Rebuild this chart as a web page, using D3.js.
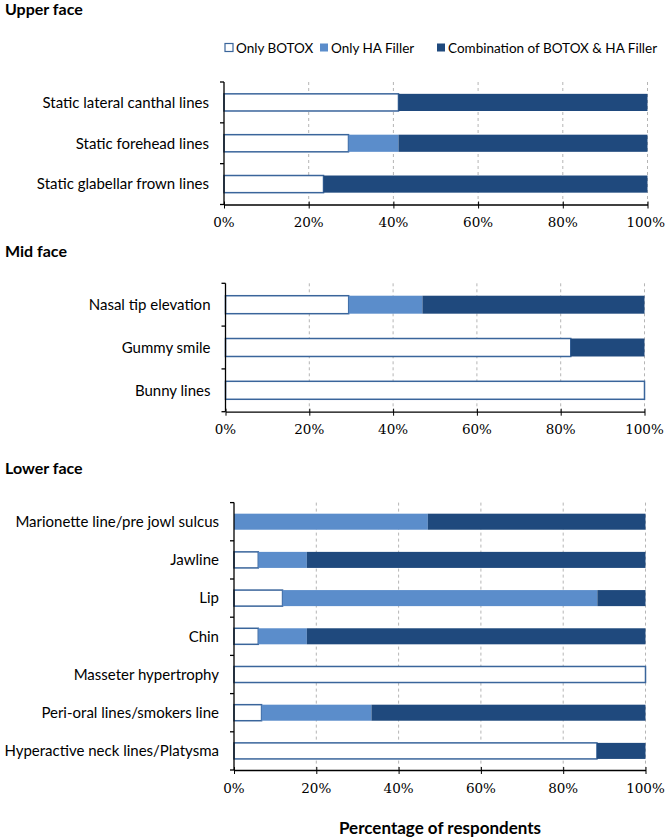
<!DOCTYPE html>
<html>
<head>
<meta charset="utf-8">
<script src="https://cdn.jsdelivr.net/npm/d3@7"></script>
<style>
  html, body { margin: 0; padding: 0; background: #fff; }
  svg { display: block; }
</style>
</head>
<body>
<svg id="chart" width="666" height="837"></svg>
<script>
// ---------------- DATA ----------------
const seriesNames = ["Only BOTOX", "Only HA Filler", "Combination of BOTOX & HA Filler"];
const tickValues = [0, 20, 40, 60, 80, 100];
const tickLabels = ["0%", "20%", "40%", "60%", "80%", "100%"];
const xAxisTitle = "Percentage of respondents";

const upperTitle = "Upper face";
const upperCategories = ["Static lateral canthal lines", "Static forehead lines", "Static glabellar frown lines"];
const upperBotox = [41.2, 29.4, 23.5];
const upperHA    = [0, 11.8, 0];
const upperCombo = [58.8, 58.8, 76.5];

const midTitle = "Mid face";
const midCategories = ["Nasal tip elevation", "Gummy smile", "Bunny lines"];
const midBotox = [29.4, 82.4, 100];
const midHA    = [17.6, 0, 0];
const midCombo = [53.0, 17.6, 0];

const lowerTitle = "Lower face";
const lowerCategories = ["Marionette line/pre jowl sulcus", "Jawline", "Lip", "Chin",
  "Masseter hypertrophy", "Peri-oral lines/smokers line", "Hyperactive neck lines/Platysma"];
const lowerBotox = [0, 5.9, 11.8, 5.9, 100, 6.7, 88.2];
const lowerHA    = [47.1, 11.8, 76.5, 11.8, 0, 26.7, 0];
const lowerCombo = [52.9, 82.3, 11.7, 82.3, 0, 66.6, 11.8];

// ---------------- STYLE ----------------
const colors = ["#ffffff", "#5b8dcb", "#1f497d"];
const botoxStroke = "#3a659b";
const sansFont = "Lato, 'Open Sans', sans-serif";
const serifFont = "DejaVu Serif";
const W = 666;

const svg = d3.select("#chart");

function drawPanel(cfg) {
  const keys = ["botox", "ha", "combo"];
  const table = cfg.categories.map((c, i) => ({
    cat: c, botox: cfg.botox[i], ha: cfg.ha[i], combo: cfg.combo[i]
  }));
  const stacked = d3.stack().keys(keys)(table);

  const x = d3.scaleLinear().domain([0, 100]).range([cfg.left, cfg.right]);
  const y = d3.scaleBand().domain(cfg.categories).range([cfg.top, cfg.bottom])
    .paddingInner(0.58).paddingOuter(0.29);

  const g = svg.append("g");

  // panel title
  g.append("text").attr("x", 5).attr("y", cfg.titleY)
    .style("font-family", sansFont).attr("font-weight", "bold").attr("font-size", 16)
    .attr("fill", "#000").text(cfg.title);

  // dashed vertical gridlines
  g.append("g").selectAll("line").data(tickValues.filter(v => v > 0)).join("line")
    .attr("x1", d => x(d)).attr("x2", d => x(d))
    .attr("y1", cfg.top).attr("y2", cfg.bottom)
    .attr("stroke", "#b5b5b5").attr("stroke-width", 1).attr("stroke-dasharray", "3,3");

  // stacked bars
  stacked.forEach((layer, li) => {
    g.append("g").selectAll("rect").data(layer.filter(d => d[1] - d[0] > 0)).join("rect")
      .attr("x", d => x(d[0]))
      .attr("y", d => y(d.data.cat))
      .attr("width", d => x(d[1]) - x(d[0]))
      .attr("height", y.bandwidth())
      .attr("fill", colors[li])
      .attr("stroke", li === 0 ? botoxStroke : "none")
      .attr("stroke-width", li === 0 ? 1.5 : 0);
  });

  // x axis
  const xAxis = d3.axisBottom(x).tickValues(tickValues)
    .tickFormat("").tickSize(4).tickSizeOuter(0);
  const xa = g.append("g").attr("transform", `translate(0,${cfg.bottom})`).call(xAxis);
  xa.select(".domain").attr("stroke", "#000").attr("stroke-width", 1.3);
  xa.selectAll(".tick line").attr("stroke", "#000").attr("y1", -3).attr("y2", 4);
  const tl = g.append("g").selectAll("text").data(tickValues).join("text")
    .attr("x", d => x(d))
    .attr("y", cfg.bottom + 22.5)
    .attr("text-anchor", "middle")
    .attr("font-family", serifFont)
    .attr("font-size", 13.5)
    .attr("fill", "#000")
    .text((d, i) => tickLabels[i]);
  // keep labels inside the page
  tl.each(function(d) {
    const w = this.getComputedTextLength();
    const cx = Math.min(x(d), W - 1 - w / 2);
    d3.select(this).attr("x", cx);
  });

  // y axis with ticks at band boundaries
  const yAxisLine = g.append("g");
  yAxisLine.append("line").attr("x1", cfg.left).attr("x2", cfg.left)
    .attr("y1", cfg.top).attr("y2", cfg.bottom).attr("stroke", "#000").attr("stroke-width", 1.3);
  const step = y.step();
  const boundaries = d3.range(cfg.categories.length + 1).map(i => cfg.top + i * step);
  yAxisLine.selectAll("line.tk").data(boundaries).join("line").attr("class", "tk")
    .attr("x1", cfg.left - 4).attr("x2", cfg.left)
    .attr("y1", d => d).attr("y2", d => d).attr("stroke", "#000").attr("stroke-width", 1.3);

  // category labels
  g.append("g").selectAll("text").data(cfg.categories).join("text")
    .attr("x", cfg.left - 15)
    .attr("y", d => y(d) + y.bandwidth() / 2)
    .attr("dy", "0.35em")
    .attr("text-anchor", "end")
    .style("font-family", sansFont).attr("font-size", 15).attr("fill", "#000")
    .text(d => d);
}

drawPanel({ title: upperTitle, titleY: 15, categories: upperCategories,
  botox: upperBotox, ha: upperHA, combo: upperCombo,
  left: 224, right: 647.5, top: 82, bottom: 204.5 });

drawPanel({ title: midTitle, titleY: 257, categories: midCategories,
  botox: midBotox, ha: midHA, combo: midCombo,
  left: 225.5, right: 644.5, top: 283.3, bottom: 411.7 });

drawPanel({ title: lowerTitle, titleY: 474, categories: lowerCategories,
  botox: lowerBotox, ha: lowerHA, combo: lowerCombo,
  left: 234, right: 645.5, top: 502.6, bottom: 770 });

// legend
const legendX = [225, 320, 437];
const lg = svg.append("g");
seriesNames.forEach((name, i) => {
  lg.append("rect").attr("x", legendX[i]).attr("y", 43.5).attr("width", 8).attr("height", 8)
    .attr("fill", colors[i]).attr("stroke", i === 0 ? botoxStroke : "none").attr("stroke-width", 1.2);
  lg.append("text").attr("x", legendX[i] + 11).attr("y", 52.5)
    .style("font-family", sansFont).attr("font-size", 13.5).attr("fill", "#000").text(name);
});

// x axis title
svg.append("text").attr("x", 440).attr("y", 834).attr("text-anchor", "middle")
  .style("font-family", sansFont).attr("font-weight", "bold").attr("font-size", 17)
  .attr("fill", "#000").text(xAxisTitle);
</script>
</body>
</html>
